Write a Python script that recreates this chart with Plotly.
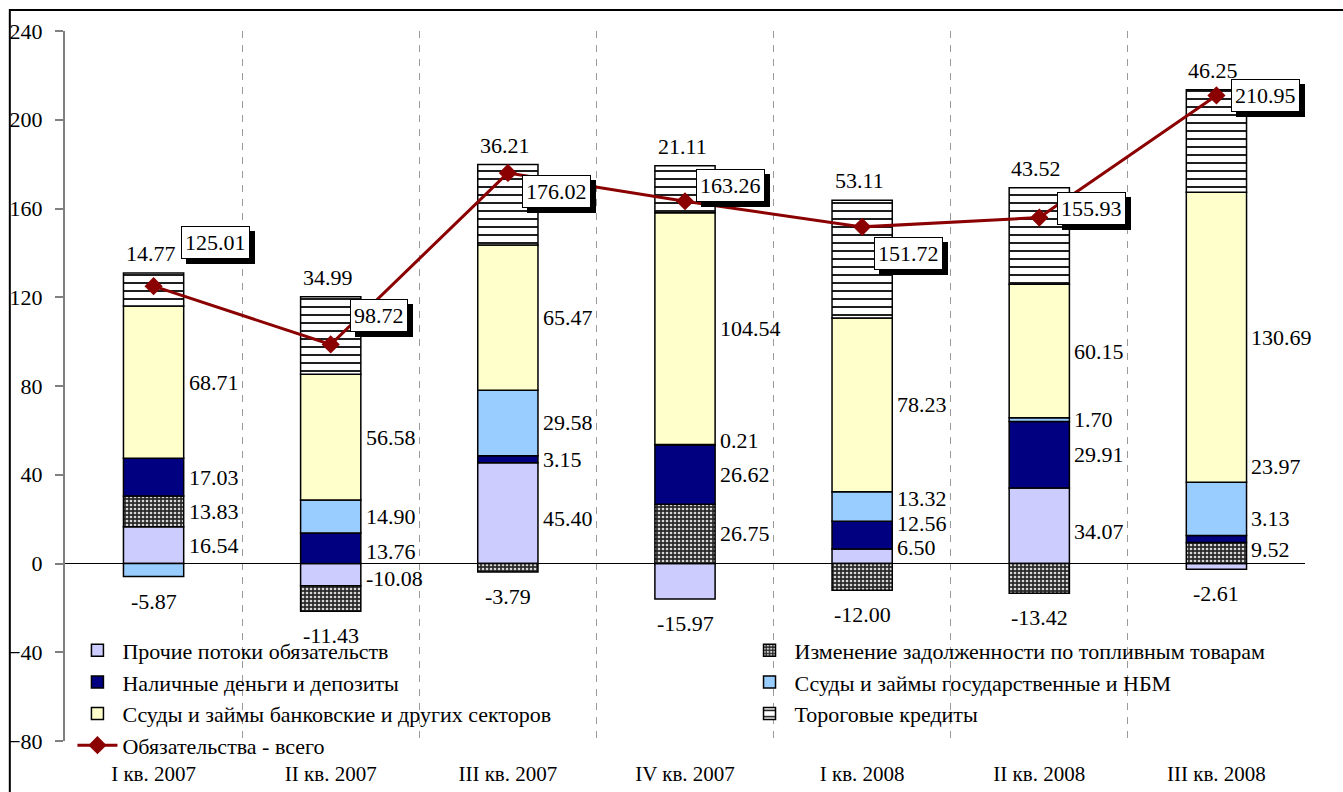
import plotly.graph_objects as go

categories = ["I кв. 2007", "II кв. 2007", "III кв. 2007", "IV кв. 2007",
              "I кв. 2008", "II кв. 2008", "III кв. 2008"]
other_flows = [16.54, -10.08, 45.40, -15.97, 6.50, 34.07, -2.61]
fuel_debt = [13.83, -11.43, -3.79, 26.75, -12.00, -13.42, 9.52]
cash_deposits = [17.03, 13.76, 3.15, 26.62, 12.56, 29.91, 3.13]
gov_loans = [-5.87, 14.90, 29.58, 0.21, 13.32, 1.70, 23.97]
bank_loans = [68.71, 56.58, 65.47, 104.54, 78.23, 60.15, 130.69]
trade_credits = [14.77, 34.99, 36.21, 21.11, 53.11, 43.52, 46.25]
total_liabilities = [125.01, 98.72, 176.02, 163.26, 151.72, 155.93, 210.95]

series_names = ["Прочие потоки обязательств",
                "Изменение задолженности по топливным товарам",
                "Наличные деньги и депозиты",
                "Ссуды и займы государственные и НБМ",
                "Ссуды и займы банковские и других секторов",
                "Тороговые кредиты"]
line_name = "Обязательства - всего"

FONT = "Liberation Serif, Times New Roman, serif"
series_values = [other_flows, fuel_debt, cash_deposits, gov_loans, bank_loans, trade_credits]

styles = [
    dict(color="#CCCCFF"),
    dict(color="#333333", pattern=dict(shape=".", bgcolor="#2a2a2a", fgcolor="#d8d8d8",
                                       size=4, solidity=0.35, fillmode="replace")),
    dict(color="#000080"),
    dict(color="#99CCFF"),
    dict(color="#FFFFCC"),
    dict(color="white", pattern=dict(shape="-", bgcolor="white", fgcolor="black",
                                     size=8, solidity=0.22, fillmode="replace")),
]
# legend column for each bar series (two-column legend as in the original)
legend_ids = ["legend", "legend2", "legend", "legend2", "legend", "legend2"]

fig = go.Figure()
for name, vals, st, lg in zip(series_names, series_values, styles, legend_ids):
    marker = dict(line=dict(color="black", width=1.5), **st)
    fig.add_trace(go.Bar(x=categories, y=vals, name=name, marker=marker, width=0.34, legend=lg))

fig.add_trace(go.Scatter(x=categories, y=total_liabilities, name=line_name, mode="lines+markers",
                         line=dict(color="#8B0000", width=3), legend="legend",
                         marker=dict(symbol="diamond", size=14, color="#8B0000")))

# pixel nudges (vertical) for crowded segment labels: (series index, category index) -> px
nudge = {(0, 4): 9, (2, 4): 12, (3, 4): 8,
         (1, 6): 3, (2, 6): 20, (3, 6): 42,
         (0, 2): -5, (0, 5): -6, (3, 3): 4,
         (2, 1): -3, (0, 1): -4}

annotations = []
lab_font = dict(family=FONT, size=22, color="black")
for ci, cat in enumerate(categories):
    pos_base, neg_base = 0.0, 0.0
    segs = []
    for si, vals in enumerate(series_values):
        v = vals[ci]
        if v >= 0:
            y0, y1 = pos_base, pos_base + v
            pos_base = y1
        else:
            y1, y0 = neg_base, neg_base + v
            neg_base = y0
        segs.append((si, v, y0, y1))
    top_si = max((s for s in segs if s[1] >= 0), key=lambda s: s[3])[0]
    negs = [s for s in segs if s[1] < 0]
    bot_si = min(negs, key=lambda s: s[2])[0] if negs else None
    for si, v, y0, y1 in segs:
        txt = f"{v:.2f}"
        if si == top_si:
            annotations.append(dict(x=cat, y=y1, text=txt, showarrow=False, xanchor="center",
                                    yanchor="bottom", yshift=5, xshift=-3, font=lab_font))
        elif si == bot_si:
            annotations.append(dict(x=cat, y=y0, text=txt, showarrow=False, xanchor="center",
                                    yanchor="top", yshift=-10, font=lab_font))
        else:
            annotations.append(dict(x=cat, y=(y0 + y1) / 2, text=txt, showarrow=False,
                                    xanchor="left", yanchor="middle", xshift=33,
                                    yshift=nudge.get((si, ci), 0), font=lab_font))

# boxed total labels with shadow
box_offsets = [(62, 44), (48, 29), (49, -19), (45, 16), (46, -27), (52, 9), (49, 0)]
for cat, tv, (dx, dy) in zip(categories, total_liabilities, box_offsets):
    txt = f"{tv:.2f}"
    annotations.append(dict(x=cat, y=tv, text=txt, showarrow=False, xshift=dx + 5, yshift=dy - 5,
                            bgcolor="black", bordercolor="black", borderwidth=1, borderpad=3,
                            font=dict(family=FONT, size=22, color="black")))
    annotations.append(dict(x=cat, y=tv, text=txt, showarrow=False, xshift=dx, yshift=dy,
                            bgcolor="white", bordercolor="black", borderwidth=1, borderpad=3,
                            font=dict(family=FONT, size=22, color="black")))

leg_common = dict(orientation="v", xanchor="left", yanchor="top", bgcolor="rgba(0,0,0,0)",
                  font=dict(family=FONT, size=22), itemwidth=40, tracegroupgap=0,
                  traceorder="normal")

fig.update_layout(
    width=1343, height=792,
    margin=dict(l=65, r=38, t=31, b=51, autoexpand=False),
    paper_bgcolor="white", plot_bgcolor="white",
    barmode="relative",
    font=dict(family=FONT, size=20, color="black"),
    showlegend=True,
    legend=dict(x=0.006, y=0.157, **leg_common),
    legend2=dict(x=0.548, y=0.157, **leg_common),
    annotations=annotations,
    xaxis=dict(range=[-0.5, 6.5], showline=False, ticks="", tickson="boundaries",
               showgrid=True, gridcolor="#9a9a9a", griddash="7px,7px", gridwidth=1,
               tickfont=dict(family=FONT, size=21), ticklabelstandoff=18, fixedrange=True,
               automargin=False),
    yaxis=dict(range=[-80, 240], dtick=40, showgrid=False, showline=True, linecolor="#808080",
               linewidth=2, ticks="outside", ticklen=8, tickcolor="#808080", tickwidth=1.5,
               zeroline=True, zerolinecolor="black", zerolinewidth=1.2,
               tickfont=dict(family=FONT, size=22), ticklabelstandoff=8, fixedrange=True,
               automargin=False),
    shapes=[dict(type="rect", xref="paper", yref="paper", x0=-0.0445, x1=1.045,
                 y0=-0.08, y1=1.0296, line=dict(color="black", width=2), fillcolor="rgba(0,0,0,0)")],
)

fig.write_html("out.html", config={"displayModeBar": False},
               post_script="document.body.style.margin='0px';document.body.style.overflow='hidden';")
